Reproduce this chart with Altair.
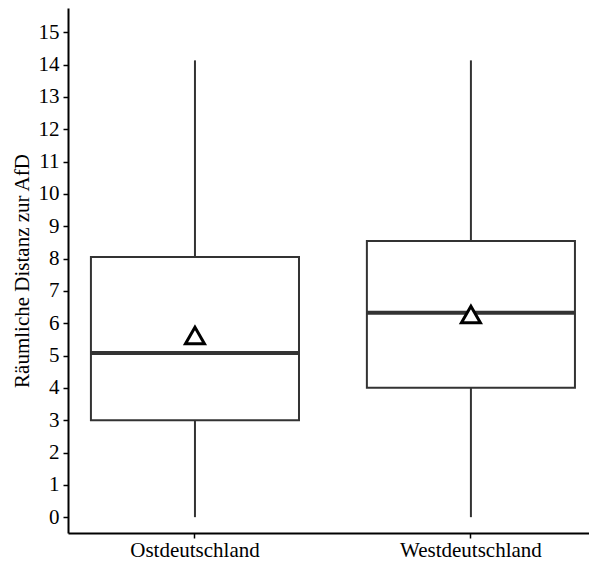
import altair as alt
import pandas as pd

regions = ["Ostdeutschland", "Westdeutschland"]
lower = [0.0, 0.0]
q1 = [3.0, 4.0]
median = [5.08, 6.32]
q3 = [8.05, 8.54]
upper = [14.13, 14.13]
mean = [5.62, 6.27]
y_ticks = list(range(0, 16))

df = pd.DataFrame({
    "region": regions, "lower": lower, "q1": q1, "median": median,
    "q3": q3, "upper": upper, "mean": mean,
})

FONT = "Liberation Serif"
xscale = alt.Scale(domain=regions, paddingInner=0.246, paddingOuter=0.067, align=0.62)
yscale = alt.Scale(domain=[-0.49, 15.75], nice=False, zero=False)

x_axis = alt.Axis(title=None, labelAngle=0, labelFont=FONT, labelFontSize=21,
                  labelColor="black", tickColor="black", tickSize=5, tickWidth=1.5,
                  domainColor="black", domainWidth=2, labelPadding=1, grid=False)
y_axis = alt.Axis(title="Räumliche Distanz zur AfD", values=y_ticks, titleFont=FONT,
                  titleFontSize=21, titleFontWeight="normal", titleColor="black",
                  titlePadding=6, labelFont=FONT, labelFontSize=21, labelColor="black",
                  tickColor="black", tickSize=5, tickWidth=1.5, domainColor="black",
                  domainWidth=2, labelPadding=4, grid=False, labelOverlap=False)

def X():
    return alt.X("region:N", scale=xscale, sort=regions, axis=x_axis)

base = alt.Chart(df)

box = base.mark_bar(fill="white", stroke="#333333", strokeWidth=2).encode(
    x=X(),
    y=alt.Y("q1:Q", scale=yscale, axis=y_axis),
    y2="q3:Q",
)
whisk_lo = base.mark_rule(color="#333333", strokeWidth=2).encode(
    x=X(),
    y=alt.Y("lower:Q", scale=yscale, axis=y_axis),
    y2="q1:Q",
)
whisk_hi = base.mark_rule(color="#333333", strokeWidth=2).encode(
    x=X(),
    y=alt.Y("q3:Q", scale=yscale, axis=y_axis),
    y2="upper:Q",
)
med = base.mark_tick(color="#333333", thickness=4, size=208, opacity=1).encode(
    x=X(),
    y=alt.Y("median:Q", scale=yscale, axis=y_axis),
)
mn = base.mark_point(shape="triangle-up", size=360, filled=False, stroke="black",
                     strokeWidth=3, fill="white", fillOpacity=1, opacity=1).encode(
    x=X(),
    y=alt.Y("mean:Q", scale=yscale, axis=y_axis),
)

chart = (box + whisk_lo + whisk_hi + med + mn).properties(
    width=521, height=525,
    padding={"left": 60, "top": 0, "right": 0, "bottom": 28},
    autosize=alt.AutoSizeParams(type="none"),
).configure_view(stroke=None)

chart.save("out.html", embed_options={"renderer": "svg", "actions": False})
